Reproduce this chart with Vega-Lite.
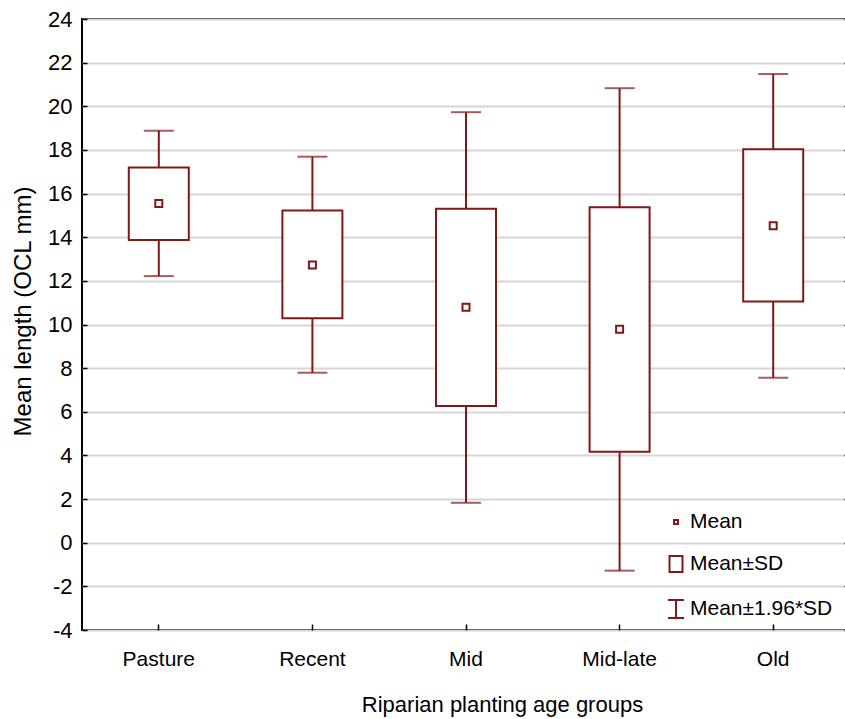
{
  "$schema": "https://vega.github.io/schema/vega-lite/v6.json",
  "autosize": "none",
  "width": 768,
  "height": 611,
  "padding": {"left": 82, "top": 19, "right": -5, "bottom": 89},
  "background": "white",
  "datasets": {
    "stats": [
      {"group": "Pasture", "mean": 15.54, "sd_lo": 13.87, "sd_hi": 17.2, "ci_lo": 12.22, "ci_hi": 18.88},
      {"group": "Recent", "mean": 12.73, "sd_lo": 10.29, "sd_hi": 15.22, "ci_lo": 7.79, "ci_hi": 17.69},
      {"group": "Mid", "mean": 10.79, "sd_lo": 6.27, "sd_hi": 15.31, "ci_lo": 1.83, "ci_hi": 19.73},
      {"group": "Mid-late", "mean": 9.78, "sd_lo": 4.17, "sd_hi": 15.37, "ci_lo": -1.28, "ci_hi": 20.83},
      {"group": "Old", "mean": 14.52, "sd_lo": 11.05, "sd_hi": 18.03, "ci_lo": 7.56, "ci_hi": 21.48}
    ],
    "legendItems": [
      {"item": "Mean"},
      {"item": "Mean±SD"},
      {"item": "Mean±1.96*SD"}
    ]
  },
  "config": {
    "view": {"stroke": "black", "strokeWidth": 2},
    "axis": {
      "domain": false,
      "labelColor": "black",
      "titleColor": "black",
      "tickColor": "black",
      "titleFontWeight": "normal"
    }
  },
  "layer": [
    {
      "data": {"name": "stats"},
      "mark": {"type": "rule", "color": "#801818", "strokeWidth": 2},
      "encoding": {
        "x": {
          "field": "group",
          "type": "nominal",
          "sort": ["Pasture", "Recent", "Mid", "Mid-late", "Old"],
          "scale": {"paddingInner": 0, "paddingOuter": 0},
          "axis": {
            "title": "Riparian planting age groups",
            "labelAngle": 0,
            "labelFont": "Liberation Sans",
            "labelFontSize": 21,
            "labelPadding": 24,
            "tickSize": -6,
            "tickWidth": 1.5,
            "titleFont": "Liberation Sans",
            "titleFontSize": 22,
            "titleX": 420,
            "titleY": 81,
            "titleBaseline": "alphabetic",
            "titleAnchor": "middle",
            "grid": false
          }
        },
        "y": {
          "field": "ci_lo",
          "type": "quantitative",
          "scale": {"domain": [-4, 24], "nice": false, "zero": false},
          "axis": {
            "title": "Mean length (OCL mm)",
            "values": [-4, -2, 0, 2, 4, 6, 8, 10, 12, 14, 16, 18, 20, 22, 24],
            "labelExpr": "toString(datum.value)",
            "labelFont": "Liberation Sans",
            "labelFontSize": 22,
            "labelPadding": 15,
            "tickSize": -5,
            "tickWidth": 1.5,
            "grid": true,
            "gridColor": "#d6d6d6",
            "gridWidth": 2,
            "titleFont": "Liberation Sans",
            "titleFontSize": 24,
            "titleX": -52,
            "titleY": 292,
            "titleAngle": -90,
            "titleAlign": "center",
            "titleBaseline": "alphabetic"
          }
        },
        "y2": {"field": "ci_hi"}
      }
    },
    {
      "data": {"name": "stats"},
      "mark": {"type": "bar", "width": 60, "fill": "white", "stroke": "#801818", "strokeWidth": 2},
      "encoding": {
        "x": {"field": "group", "type": "nominal", "sort": ["Pasture", "Recent", "Mid", "Mid-late", "Old"]},
        "y": {"field": "sd_lo", "type": "quantitative", "axis": null},
        "y2": {"field": "sd_hi"}
      }
    },
    {
      "data": {"name": "stats"},
      "mark": {"type": "tick", "color": "#801818", "size": 30, "thickness": 2},
      "encoding": {
        "x": {"field": "group", "type": "nominal", "sort": ["Pasture", "Recent", "Mid", "Mid-late", "Old"]},
        "y": {"field": "ci_lo", "type": "quantitative", "axis": null}
      }
    },
    {
      "data": {"name": "stats"},
      "mark": {"type": "tick", "color": "#801818", "size": 30, "thickness": 2},
      "encoding": {
        "x": {"field": "group", "type": "nominal", "sort": ["Pasture", "Recent", "Mid", "Mid-late", "Old"]},
        "y": {"field": "ci_hi", "type": "quantitative", "axis": null}
      }
    },
    {
      "data": {"name": "stats"},
      "mark": {"type": "point", "shape": "square", "size": 49, "filled": false, "fill": "white", "stroke": "#801818", "strokeWidth": 2, "opacity": 1},
      "encoding": {
        "x": {"field": "group", "type": "nominal", "sort": ["Pasture", "Recent", "Mid", "Mid-late", "Old"]},
        "y": {
          "field": "mean",
          "type": "quantitative",
          "axis": {
            "orient": "right",
            "values": [-4, -2, 0, 2, 4, 6, 8, 10, 12, 14, 16, 18, 20, 22, 24],
            "labels": false,
            "grid": false,
            "tickSize": -6,
            "tickWidth": 1.5,
            "title": null
          }
        }
      }
    },
    {
      "data": {"name": "legendItems"},
      "mark": {"type": "point", "filled": false, "color": "#801818", "strokeWidth": 2, "size": 400, "opacity": 0},
      "encoding": {
        "shape": {
          "field": "item",
          "type": "nominal",
          "scale": {
            "domain": ["Mean", "Mean±SD", "Mean±1.96*SD"],
            "range": [
              "M-0.2,-0.2H0.2V0.2H-0.2Z",
              "M-0.65,-0.8H0.65V0.8H-0.65Z",
              "M-0.8,-0.9H0.8M0,-0.9V0.9M-0.8,0.9H0.8"
            ]
          },
          "legend": {
            "title": null,
            "orient": "none",
            "legendX": 583,
            "legendY": 492,
            "padding": 0,
            "symbolSize": 400,
            "symbolOpacity": 1,
            "symbolStrokeColor": "#801818",
            "symbolStrokeWidth": 2,
            "symbolFillColor": "transparent",
            "labelFont": "Liberation Sans",
            "labelFontSize": 21,
            "labelColor": "black",
            "labelOffset": 3,
            "labelLimit": 300,
            "rowPadding": 20
          }
        }
      }
    }
  ],
  "resolve": {"axis": {"y": "independent"}}
}
